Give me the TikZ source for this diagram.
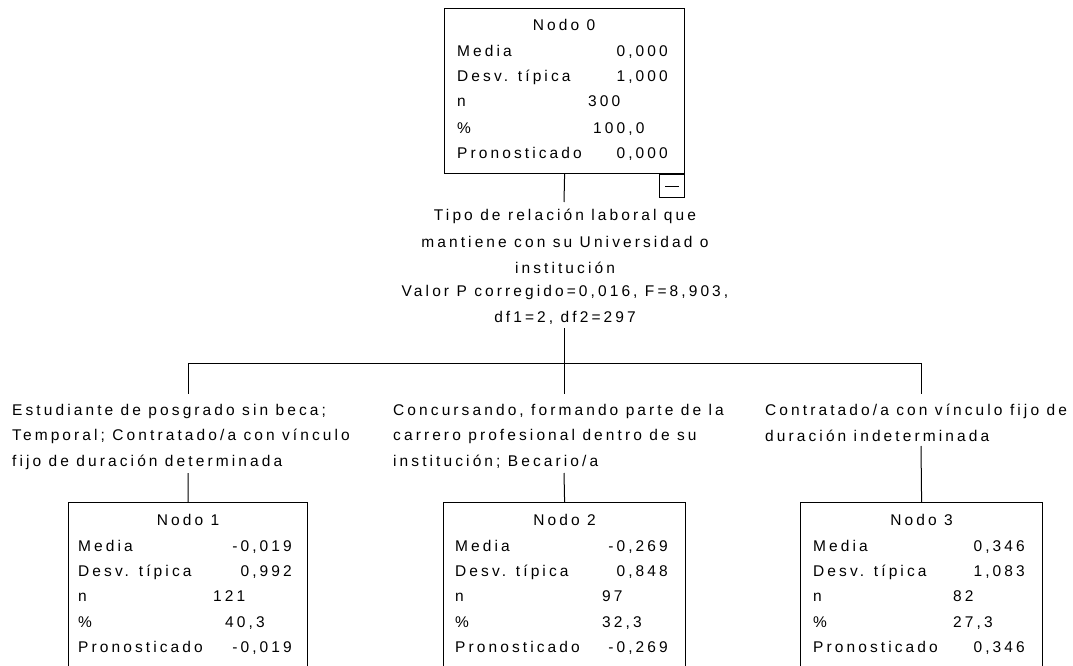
\documentclass[tikz,border=0pt]{standalone}
\usepackage{fontspec}
\setmainfont{Liberation Sans}[LetterSpace=20]
\begin{document}
\begin{tikzpicture}[x=1pt,y=-1pt,
  every node/.style={inner sep=0pt, font=\fontsize{15.5}{17}\selectfont},
  box/.style={draw, line width=1.2pt, anchor=north west, minimum width=240pt},
  lbl/.style={anchor=base west},
  val/.style={anchor=base east},
  hd/.style={anchor=base},
  conn/.style={line width=1pt},
  splitlbl/.style={anchor=base west, align=left, font=\fontsize{15.5}{25.3}\selectfont}
]
\useasboundingbox (0,0) rectangle (1073,666);
\clip (0,0) rectangle (1073,666);
\fill[white] (0,0) rectangle (1073,666);

% ---- root node
\node[box, minimum height=165pt] (n0) at (444,8) {};
\node[hd] (n0h) at (564,31) {Nodo 0};
\node[lbl] (n0a) at (457,57) {Media};
\node[val] (n0av) at (668,57) {0,000};
\node[lbl] (n0b) at (457,82) {Desv. típica};
\node[val] (n0bv) at (668,82) {1,000};
\node[lbl] (n0c) at (457,107) {n};
\node[lbl] (n0cv) at (588,107) {300};
\node[lbl] (n0d) at (457,133) {\%};
\node[lbl] (n0dv) at (593,133) {100,0};
\node[lbl] (n0e) at (457,158) {Pronosticado};
\node[val] (n0ev) at (668,158) {0,000};
\node[draw, line width=1pt, minimum width=25pt, minimum height=23pt, anchor=north east] (tog) at (n0.south east) {};
\draw[line width=1.2pt] ([xshift=6pt]tog.west) -- ([xshift=-6pt]tog.east);

% ---- split label
\node[hd] (s1) at (565,220) {Tipo de relación laboral que};
\node[hd] (s2) at (565,247) {mantiene con su Universidad o};
\node[hd] (s3) at (565,273) {institución};
\node[hd] (s4) at (565,296) {Valor P corregido=0,016, F=8,903,};
\node[hd] (s5) at (565,322) {df1=2, df2=297};

% ---- connectors
\coordinate (c0a) at (564,202);
\coordinate (c0b) at (564,328);
\coordinate (j1) at (188,363);
\coordinate (j2) at (564,363);
\coordinate (j3) at (921,363);
\coordinate (c1a) at (188,394);
\coordinate (c2a) at (564,394);
\coordinate (c3a) at (921,394);
\coordinate (c1b) at (188,473);
\coordinate (c2b) at (564,473);
\coordinate (c3b) at (921,446);
\draw[conn] (n0.south) -- (c0a);
\draw[conn] (c0b) -- (j2);
\draw[conn] (j1) -- (j3);
\draw[conn] (j1) -- (c1a);
\draw[conn] (j2) -- (c2a);
\draw[conn] (j3) -- (c3a);

% ---- category labels (base = last line)
\node[splitlbl] (l1) at (12,466) {Estudiante de posgrado sin beca;\\Temporal; Contratado/a con vínculo\\fijo de duración determinada};
\node[splitlbl] (l2) at (393,466) {Concursando, formando parte de la\\carrero profesional dentro de su\\institución; Becario/a};
\node[splitlbl] (l3) at (765,441) {Contratado/a con vínculo fijo de\\duración indeterminada};

% ---- child nodes
\node[box, minimum width=239pt, minimum height=200pt] (n1) at (68,502) {};
\node[box, minimum width=242pt, minimum height=200pt] (n2) at (443,502) {};
\node[box, minimum width=242pt, minimum height=200pt] (n3) at (800,502) {};
\draw[conn] (c1b) -- (n1.north);
\draw[conn] (c2b) -- (n2.north);
\draw[conn] (c3b) -- (n3.north);

\node[hd] (n1h) at (n1.north |- 0,525) {Nodo 1};
\node[lbl] (n1a) at (78,551) {Media};
\node[val] (n1av) at (292,551) {-0,019};
\node[lbl] (n1b) at (78,576) {Desv. típica};
\node[val] (n1bv) at (292,576) {0,992};
\node[lbl] (n1c) at (78,601) {n};
\node[lbl] (n1cv) at (213,601) {121};
\node[lbl] (n1d) at (78,627) {\%};
\node[lbl] (n1dv) at (225,627) {40,3};
\node[lbl] (n1e) at (78,652) {Pronosticado};
\node[val] (n1ev) at (292,652) {-0,019};

\node[hd] (n2h) at (n2.north |- 0,525) {Nodo 2};
\node[lbl] (n2a) at (455,551) {Media};
\node[val] (n2av) at (668,551) {-0,269};
\node[lbl] (n2b) at (455,576) {Desv. típica};
\node[val] (n2bv) at (668,576) {0,848};
\node[lbl] (n2c) at (455,601) {n};
\node[lbl] (n2cv) at (602,601) {97};
\node[lbl] (n2d) at (455,627) {\%};
\node[lbl] (n2dv) at (602,627) {32,3};
\node[lbl] (n2e) at (455,652) {Pronosticado};
\node[val] (n2ev) at (668,652) {-0,269};

\node[hd] (n3h) at (n3.north |- 0,525) {Nodo 3};
\node[lbl] (n3a) at (813,551) {Media};
\node[val] (n3av) at (1025,551) {0,346};
\node[lbl] (n3b) at (813,576) {Desv. típica};
\node[val] (n3bv) at (1025,576) {1,083};
\node[lbl] (n3c) at (813,601) {n};
\node[lbl] (n3cv) at (953,601) {82};
\node[lbl] (n3d) at (813,627) {\%};
\node[lbl] (n3dv) at (953,627) {27,3};
\node[lbl] (n3e) at (813,652) {Pronosticado};
\node[val] (n3ev) at (1025,652) {0,346};
\end{tikzpicture}
\end{document}
